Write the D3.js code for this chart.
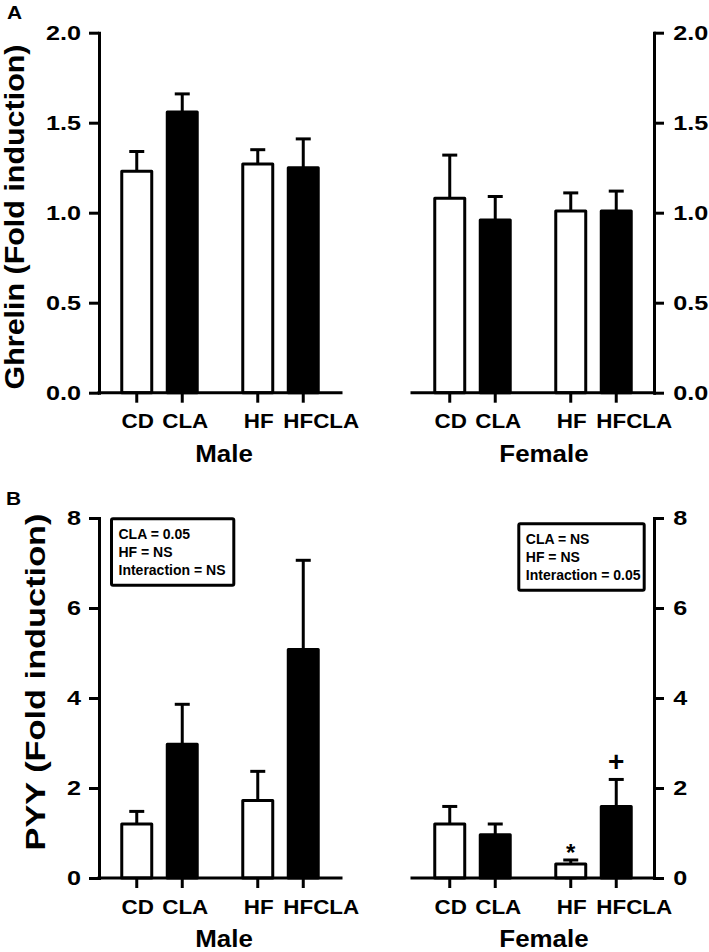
<!DOCTYPE html>
<html>
<head>
<meta charset="utf-8">
<script src="https://cdn.jsdelivr.net/npm/d3@7"></script>
<style>
  html, body { margin: 0; padding: 0; background: #fff; }
  svg { display: block; }
  text { font-family: "Liberation Sans", Arial, Helvetica, sans-serif; font-weight: bold; fill: #000; }
</style>
</head>
<body>
<svg id="chart" width="709" height="952"></svg>
<script>
// ---------------- data ----------------
const categories = ["CD", "CLA", "HF", "HFCLA"];
const sexes = ["Male", "Female"];
const barFills = ["#fff", "#000", "#fff", "#000"];

const ghrelinMale = [1.23, 1.56, 1.27, 1.25];
const ghrelinMaleSem = [0.11, 0.10, 0.08, 0.16];
const ghrelinFemale = [1.08, 0.96, 1.01, 1.01];
const ghrelinFemaleSem = [0.24, 0.13, 0.10, 0.11];

const pyyMale = [1.20, 2.97, 1.72, 5.08];
const pyyMaleSem = [0.28, 0.89, 0.65, 1.98];
const pyyFemale = [1.20, 0.96, 0.31, 1.59];
const pyyFemaleSem = [0.39, 0.24, 0.09, 0.60];

const ghrelinTicks = [0, 0.5, 1.0, 1.5, 2.0];
const pyyTicks = [0, 2, 4, 6, 8];

const statsMale = ["CLA = 0.05", "HF = NS", "Interaction = NS"];
const statsFemale = ["CLA = NS", "HF = NS", "Interaction = 0.05"];

// significance marks in panel B, female group: [category, symbol]
const pyyFemaleMarks = [["HF", "*"], ["HFCLA", "+"]];

// ---------------- layout ----------------
const svg = d3.select("#chart");
const SW = 3;
const catLabelDx = [1, 3, 1, 18];

const xGroup = d3.scaleBand().domain(sexes).range([99, 654]).paddingInner(0.2268).paddingOuter(0);
const xPair = d3.scaleBand().domain([0, 1]).range([0, xGroup.bandwidth()]).paddingInner(0.248).paddingOuter(0.124);
const xInner = d3.scaleBand().domain([0, 1]).range([0, xPair.bandwidth()]).paddingInner(0.341).paddingOuter(0.1705);

function xCat(sex, i) {
  return xGroup(sex) + xPair(Math.floor(i / 2)) + xInner(i % 2);
}
function xCenter(sex, i) { return xCat(sex, i) + xInner.bandwidth() / 2; }

function stretchText(sel, sx) {
  sel.each(function () {
    const t = d3.select(this);
    const x = +t.attr("x") || 0;
    const y = +t.attr("y") || 0;
    t.attr("transform", `translate(${x},${y}) scale(${sx},1)`).attr("x", 0).attr("y", 0);
  });
}

function drawPanel(cfg) {
  const g = svg.append("g");
  const y = d3.scaleLinear().domain(cfg.domain).range(cfg.range);

  const left = d3.axisLeft(y).tickValues(cfg.ticks).tickFormat(cfg.fmt).tickSize(10).tickSizeOuter(0).tickPadding(5);
  const ga = g.append("g").attr("transform", `translate(${xGroup("Male")},0)`).call(left);
  const right = d3.axisRight(y).tickValues(cfg.ticks).tickFormat(cfg.fmt).tickSize(10).tickSizeOuter(0).tickPadding(6);
  const gb = g.append("g").attr("transform", `translate(${xGroup("Female") + xGroup.bandwidth()},0)`).call(right);
  [ga, gb].forEach(a => {
    a.select(".domain").attr("stroke", "#000").attr("stroke-width", SW).attr("stroke-linecap", "square");
    a.selectAll(".tick line").attr("stroke", "#000").attr("stroke-width", SW);
    a.selectAll(".tick text")
      .style("font-size", "21px").style("font-weight", "bold")
      .style("font-family", '"Liberation Sans", Arial, sans-serif')
      .attr("fill", "#000")
      .attr("transform", "scale(1.2,1)");
    a.attr("font-size", null).attr("font-family", null);
  });

  sexes.forEach(sex => {
    const vals = cfg.data[sex].mean;
    const sem = cfg.data[sex].sem;
    const gx = xGroup(sex);
    categories.forEach((c, i) => {
      const x0 = xCat(sex, i);
      const xc = xCenter(sex, i);
      const top = y(vals[i] + sem[i]);
      g.append("line").attr("x1", xc).attr("x2", xc).attr("y1", y(vals[i])).attr("y2", top)
        .attr("stroke", "#000").attr("stroke-width", SW);
      g.append("line").attr("x1", xc - 7.5).attr("x2", xc + 7.5).attr("y1", top).attr("y2", top)
        .attr("stroke", "#000").attr("stroke-width", SW);
      g.append("rect").attr("x", x0).attr("width", xInner.bandwidth())
        .attr("y", y(vals[i])).attr("height", y(0) - y(vals[i]))
        .attr("fill", barFills[i]).attr("stroke", "#000").attr("stroke-width", SW)
        .attr("stroke-linejoin", "round");
      g.append("line").attr("x1", xc).attr("x2", xc).attr("y1", y(0)).attr("y2", y(0) + 10)
        .attr("stroke", "#000").attr("stroke-width", SW);
      const tl = g.append("text").attr("x", xc + catLabelDx[i]).attr("y", y(0) + 35.6)
        .attr("text-anchor", "middle").style("font-size", "19.5px").text(c);
      stretchText(tl, 1.15);
    });
    g.append("line").attr("x1", gx).attr("x2", gx + xGroup.bandwidth()).attr("y1", y(0)).attr("y2", y(0))
      .attr("stroke", "#000").attr("stroke-width", SW).attr("stroke-linecap", "square");
    const gl = g.append("text").attr("x", gx + xGroup.bandwidth() / 2 + (sex === "Male" ? 4 : 11))
      .attr("y", y(0) + cfg.groupLabelDy).attr("text-anchor", "middle").style("font-size", "24px").text(sex);
    stretchText(gl, 1.08);
  });

  g.append("text")
    .attr("transform", `translate(${cfg.titleX},${cfg.titleY}) rotate(-90)`)
    .attr("text-anchor", "middle")
    .attr("textLength", cfg.titleLen).attr("lengthAdjust", "spacingAndGlyphs")
    .style("font-size", "28px").text(cfg.title);

  const lt = g.append("text").attr("x", cfg.letterX).attr("y", cfg.letterY).style("font-size", "19px").text(cfg.letter);
  stretchText(lt, 1.1);

  return { g, y };
}

drawPanel({
  domain: [0, 2], range: [392.7, 32.7], ticks: ghrelinTicks, fmt: d3.format(".1f"),
  data: { Male: { mean: ghrelinMale, sem: ghrelinMaleSem }, Female: { mean: ghrelinFemale, sem: ghrelinFemaleSem } },
  title: "Ghrelin (Fold induction)", titleX: 24, titleY: 217, titleLen: 345,
  letter: "A", letterX: 7, letterY: 18.5, groupLabelDy: 69
});

const pB = drawPanel({
  domain: [0, 8], range: [878, 518], ticks: pyyTicks, fmt: d3.format("d"),
  data: { Male: { mean: pyyMale, sem: pyyMaleSem }, Female: { mean: pyyFemale, sem: pyyFemaleSem } },
  title: "PYY (Fold induction)", titleX: 45, titleY: 682, titleLen: 337,
  letter: "B", letterX: 6, letterY: 505, groupLabelDy: 69
});

function statBox(x, y, w, h, lines) {
  const g = svg.append("g");
  g.append("rect").attr("x", x).attr("y", y).attr("width", w).attr("height", h)
    .attr("fill", "#fff").attr("stroke", "#000").attr("stroke-width", SW).attr("rx", 1.5);
  lines.forEach((t, i) => {
    g.append("text").attr("x", x + 7).attr("y", y + 20.5 + i * 18).style("font-size", "14px").text(t);
  });
}
statBox(111.5, 518.8, 122.3, 66.4, statsMale);
statBox(518.8, 523.8, 125.4, 66.4, statsFemale);

pyyFemaleMarks.forEach(([cat, sym]) => {
  const i = categories.indexOf(cat);
  const xc = xCenter("Female", i);
  const top = pB.y(pyyFemale[i] + pyyFemaleSem[i]);
  if (sym === "*") {
    svg.append("text").attr("x", xc).attr("y", top + 1).attr("text-anchor", "middle")
      .style("font-size", "24px").text(sym);
  } else {
    svg.append("text").attr("x", xc).attr("y", top - 8).attr("text-anchor", "middle")
      .style("font-size", "28px").text(sym);
  }
});
</script>
</body>
</html>
